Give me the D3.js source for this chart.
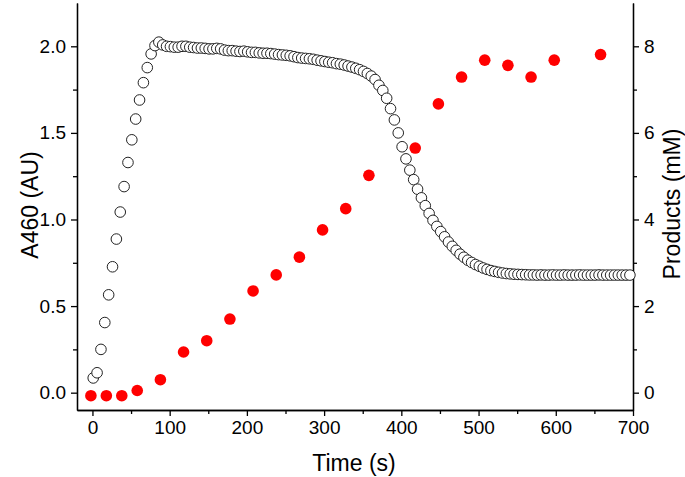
<!DOCTYPE html>
<html>
<head>
<meta charset="utf-8">
<script src="https://cdn.jsdelivr.net/npm/d3@7"></script>
<style>
  html, body { margin: 0; padding: 0; background: #fff; }
  svg { display: block; font-family: "Liberation Sans", Arial, Helvetica, sans-serif; }
</style>
</head>
<body>
<svg id="chart" width="685" height="477"></svg>
<script>
// ---- Data ----
// A460 absorbance (open circles)
const absTime = [1,6,11,16,21,26,31,36,41,46,51,56,61,66,71,76,81,86,91,96,
  101,106,111,116,121,126,131,136,141,146,151,156,161,166,171,176,181,186,191,196,
  201,206,211,216,221,226,231,236,241,246,251,256,261,266,271,276,281,286,291,296,
  301,306,311,316,321,326,331,336,341,346,351,356,361,366,371,376,381,386,391,396,
  401,406,411,416,421,426,431,436,441,446,451,456,461,466,471,476,481,486,491,496,
  501,506,511,516,521,526,531,536,541,546,551,556,561,566,571,576,581,586,591,596,
  601,606,611,616,621,626,631,636,641,646,651,656,661,666,671,676,681,686,691,696];
const absValue = [0.085,0.115,0.25,0.405,0.565,0.727,0.887,1.043,1.19,1.329,1.46,1.58,1.69,1.79,1.877,1.956,2.004,2.024,2.008,2.0,
  1.998,1.995,1.995,2.0,2.0,1.995,1.993,1.99,1.99,1.988,1.985,1.985,1.988,1.985,1.978,1.975,1.975,1.972,1.97,1.972,
  1.968,1.965,1.965,1.962,1.96,1.96,1.958,1.955,1.952,1.95,1.948,1.945,1.94,1.935,1.932,1.93,1.928,1.925,1.92,1.916,
  1.912,1.908,1.905,1.9,1.897,1.892,1.886,1.88,1.873,1.865,1.855,1.843,1.828,1.808,1.775,1.745,1.70,1.64,1.575,1.50,
  1.42,1.35,1.285,1.23,1.175,1.125,1.08,1.035,0.995,0.96,0.93,0.9,0.87,0.845,0.822,0.8,0.782,0.765,0.752,0.74,
  0.73,0.72,0.712,0.705,0.70,0.695,0.691,0.688,0.686,0.684,0.683,0.682,0.681,0.68,0.68,0.679,0.68,0.679,0.679,0.68,
  0.679,0.679,0.68,0.679,0.679,0.679,0.68,0.679,0.679,0.679,0.679,0.68,0.679,0.679,0.679,0.679,0.679,0.679,0.679,0.679];

// Products (red dots)
const prodTime  = [-2,18,38,58,88,118,148,178,208,238,268,298,328,358,418,448,478,508,538,568,598,658];
const prodValue = [-0.07,-0.07,-0.07,0.05,0.30,0.94,1.20,1.70,2.35,2.72,3.13,3.76,4.25,5.02,5.65,6.67,7.29,7.68,7.56,7.29,7.68,7.81];

// Tick values
const xMajorTicks = [0,100,200,300,400,500,600,700];
const xMinorTicks = [50,150,250,350,450,550,650];
const yLeftMajor = [0,0.5,1.0,1.5,2.0];
const yLeftMinor = [0.25,0.75,1.25,1.75];
const yRightMajor = [0,2,4,6,8];
const yRightMinor = [1,3,5,7];

// Labels
const xTitle = "Time (s)";
const yLeftTitle = "A460 (AU)";
const yRightTitle = "Products (mM)";

// ---- Chart ----
const svg = d3.select("#chart");
const mLeft = 77, mRight = 633, mTop = 3, mBottom = 410;

const x = d3.scaleLinear().domain([-20, 700]).range([mLeft, mRight]);
const yL = d3.scaleLinear().domain([-0.1, 2.25]).range([mBottom, mTop]);
const yR = d3.scaleLinear().domain([-0.4, 9]).range([mBottom, mTop]);

function styleAxis(g) {
  g.select(".domain").attr("stroke", "#000").attr("stroke-width", 1.3);
  g.selectAll(".tick line").attr("stroke", "#000").attr("stroke-width", 1.3);
  g.selectAll(".tick text").attr("fill", "#000").style("font-size", "19px")
    .style("font-family", '"Liberation Sans", Arial, Helvetica, sans-serif');
}

// Bottom axis
svg.append("g").attr("transform", `translate(0,${mBottom})`)
  .call(d3.axisBottom(x).tickValues(xMinorTicks).tickSize(4).tickSizeOuter(0).tickFormat(""))
  .call(styleAxis);
svg.append("g").attr("transform", `translate(0,${mBottom})`)
  .call(d3.axisBottom(x).tickValues(xMajorTicks).tickSize(6).tickSizeOuter(0).tickPadding(5).tickFormat(d3.format("d")))
  .call(styleAxis);

// Left axis
svg.append("g").attr("transform", `translate(${mLeft},0)`)
  .call(d3.axisLeft(yL).tickValues(yLeftMinor).tickSize(4).tickSizeOuter(0).tickFormat(""))
  .call(styleAxis);
svg.append("g").attr("transform", `translate(${mLeft},0)`)
  .call(d3.axisLeft(yL).tickValues(yLeftMajor).tickSize(6).tickSizeOuter(0).tickPadding(5).tickFormat(d3.format(".1f")))
  .call(styleAxis);

// Right axis
svg.append("g").attr("transform", `translate(${mRight},0)`)
  .call(d3.axisRight(yR).tickValues(yRightMinor).tickSize(4).tickSizeOuter(0).tickFormat(""))
  .call(styleAxis);
svg.append("g").attr("transform", `translate(${mRight},0)`)
  .call(d3.axisRight(yR).tickValues(yRightMajor).tickSize(6).tickSizeOuter(0).tickPadding(5).tickFormat(d3.format("d")))
  .call(styleAxis);

// Axis titles
svg.append("text").attr("x", 354).attr("y", 471)
  .attr("text-anchor", "middle").style("font-size", "23px").attr("fill", "#000").text(xTitle);
svg.append("text").attr("transform", `translate(38,205) rotate(-90)`)
  .attr("text-anchor", "middle").style("font-size", "23px").attr("fill", "#000").text(yLeftTitle);
svg.append("text").attr("transform", `translate(680,204) rotate(-90)`)
  .attr("text-anchor", "middle").style("font-size", "23px").attr("fill", "#000").text(yRightTitle);

// Absorbance open circles
const absData = absTime.map((t, i) => ({ t, v: absValue[i] }));
svg.append("g").selectAll("circle").data(absData).join("circle")
  .attr("cx", d => x(d.t)).attr("cy", d => yL(d.v)).attr("r", 5.3)
  .attr("fill", "#fff").attr("stroke", "#222").attr("stroke-width", 1);

// Product red dots
const prodData = prodTime.map((t, i) => ({ t, v: prodValue[i] }));
svg.append("g").selectAll("circle").data(prodData).join("circle")
  .attr("cx", d => x(d.t)).attr("cy", d => yR(d.v)).attr("r", 5.8)
  .attr("fill", "#ff0000");
</script>
</body>
</html>
